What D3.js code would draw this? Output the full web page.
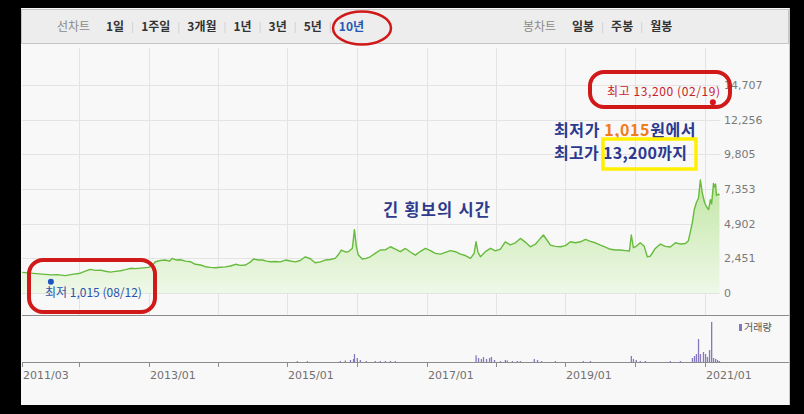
<!DOCTYPE html>
<html><head><meta charset="utf-8">
<script src="https://cdn.jsdelivr.net/npm/d3@7"></script>
<style>
html,body{margin:0;padding:0;background:#000;}
svg{display:block;}
</style></head><body>
<svg id="c" width="804" height="414"></svg>
<script>
// ---------------- DATA ----------------
const priceDates = ["2011-03-09","2011-04-10","2011-05-06","2011-06-07","2011-07-08","2011-08-08","2011-09-09","2011-10-21","2011-11-27","2012-01-08","2012-02-04","2012-03-01","2012-03-28","2012-04-23","2012-05-19","2012-06-15","2012-07-11","2012-08-07","2012-09-02","2012-09-28","2012-10-25","2012-11-20","2013-01-01","2013-01-21","2013-02-06","2013-03-04","2013-03-31","2013-04-21","2013-05-06","2013-05-27","2013-06-18","2013-07-14","2013-08-09","2013-09-04","2013-10-01","2013-10-27","2013-11-22","2013-12-19","2014-01-14","2014-02-09","2014-03-07","2014-04-03","2014-04-29","2014-05-26","2014-06-21","2014-07-07","2014-08-02","2014-08-23","2014-09-13","2014-10-03","2014-10-30","2014-11-25","2014-12-22","2015-01-16","2015-02-12","2015-03-09","2015-04-05","2015-05-01","2015-05-27","2015-06-23","2015-07-19","2015-08-14","2015-09-09","2015-09-25","2015-10-11","2015-11-01","2015-11-17","2015-12-08","2015-12-19","2015-12-29","2016-01-08","2016-01-29","2016-02-19","2016-03-11","2016-04-06","2016-05-03","2016-05-29","2016-06-25","2016-07-21","2016-08-16","2016-09-12","2016-10-08","2016-11-03","2016-11-30","2016-12-26","2017-01-21","2017-02-16","2017-03-15","2017-04-10","2017-05-06","2017-06-02","2017-06-28","2017-07-24","2017-08-20","2017-09-08","2017-09-18","2017-09-28","2017-10-11","2017-11-06","2017-12-03","2017-12-29","2018-01-24","2018-02-19","2018-03-17","2018-04-13","2018-05-09","2018-06-04","2018-06-30","2018-07-27","2018-08-22","2018-09-07","2018-09-23","2018-10-14","2018-11-09","2018-12-05","2019-01-01","2019-01-27","2019-02-23","2019-03-21","2019-04-16","2019-05-12","2019-06-07","2019-07-04","2019-07-30","2019-08-25","2019-09-21","2019-10-17","2019-11-12","2019-12-03","2019-12-13","2019-12-24","2020-01-08","2020-01-29","2020-02-19","2020-03-06","2020-03-22","2020-04-17","2020-05-14","2020-06-09","2020-07-05","2020-08-01","2020-08-27","2020-09-22","2020-10-08","2020-10-18","2020-10-29","2020-11-08","2020-11-19","2020-11-30","2020-12-10","2020-12-21","2021-01-01","2021-01-11","2021-01-22","2021-02-01","2021-02-07","2021-02-17","2021-02-22","2021-02-28","2021-03-04","2021-03-15","2021-03-20"];
const priceValues = [1460,1420,1390,1350,1320,1280,1300,1230,1320,1400,1550,1670,1600,1620,1540,1480,1530,1575,1650,1745,1720,1760,1815,1950,2210,2300,2330,2250,2450,2330,2350,2250,2210,2030,1980,1860,1815,1790,1820,1850,1910,2030,1950,1980,2200,2400,2330,2330,2250,2210,2230,2200,2330,2260,2200,2300,2560,2420,2140,2200,2330,2370,2450,2700,3040,2900,2920,3160,4480,3300,2700,2400,2450,2560,2800,3040,3050,3270,3100,2920,3150,2900,2680,2950,3160,3000,2800,2750,2870,3000,2920,2750,2650,2450,2800,3620,2900,2560,2920,3160,2980,3100,3620,3400,3550,3860,3600,3270,3450,3860,4100,3800,3390,3300,3270,3350,3620,3550,3620,3790,3650,3550,3390,3250,3090,3040,3040,3000,2970,4100,3200,3300,3550,3300,2560,2600,3150,3460,3300,3250,3550,3460,3500,3700,4300,5000,5900,6400,6700,8000,7000,6400,6100,5900,6600,6300,7750,7500,7700,6900,7000,6900];

const volumeDates = ["2015-02-22","2015-04-16","2015-10-06","2015-11-01","2015-11-28","2015-12-14","2015-12-19","2016-01-03","2016-01-19","2016-02-19","2016-04-06","2016-05-03","2016-05-29","2016-06-25","2016-07-21","2017-09-18","2017-10-01","2017-10-16","2017-10-27","2017-11-12","2017-11-28","2017-12-08","2017-12-24","2018-01-24","2018-02-19","2018-03-01","2018-03-28","2018-04-23","2018-05-09","2018-07-21","2018-08-07","2018-08-28","2018-11-09","2019-04-05","2019-05-12","2019-12-13","2019-12-24","2020-01-08","2020-01-29","2020-02-25","2020-07-05","2020-08-27","2020-10-29","2020-11-09","2020-11-19","2020-11-30","2020-12-10","2020-12-26","2021-01-06","2021-01-16","2021-01-27","2021-02-07","2021-02-17","2021-02-28","2021-03-10","2021-03-20"];
const volumeValues = [100,100,100,150,200,300,800,400,200,100,100,100,100,100,100,670,400,300,500,300,400,500,200,100,200,150,100,100,100,300,200,100,100,100,100,600,300,200,100,100,100,100,400,600,800,2300,800,1000,800,500,1200,4000,400,300,200,100];

const yTickValues = [0,2451,4902,7353,9805,12256,14707];
const xTickDates = ["2011-03-08","2012-01-01","2013-01-01","2014-01-01","2015-01-01","2016-01-01","2017-01-01","2018-01-01","2019-01-01","2020-01-01","2021-01-01"];
const xTickLabels = ["2011/03","","2013/01","","2015/01","","2017/01","","2019/01","","2021/01"];

const lineChartItems = ["1일","1주일","3개월","1년","3년","5년","10년"];
const candleChartItems = ["일봉","주봉","월봉"];
const lowPoint = {date:"2011-08-12", value:1015, label:"최저 1,015 (08/12)"};
const highPoint = {date:"2021-02-19", value:13200, label:"최고 13,200 (02/19)"};

// ---------------- DRAW ----------------
const parse = d3.timeParse("%Y-%m-%d");
const svg = d3.select("#c");
const KR = "'Noto Sans CJK KR','Noto Sans',sans-serif";
const NUM = "'DejaVu Sans',sans-serif";

// panel
svg.append("rect").attr("x",0).attr("y",0).attr("width",804).attr("height",414).attr("fill","#000");
svg.append("rect").attr("x",21).attr("y",8).attr("width",768).attr("height",397).attr("fill","#f8f8f8");
svg.append("line").attr("x1",789.5).attr("x2",789.5).attr("y1",8).attr("y2",405).attr("stroke","#c8c8c8");

// header
svg.append("rect").attr("x",21.5).attr("y",9.5).attr("width",767).attr("height",34).attr("fill","#ededed").attr("stroke","#c6c6c6");

function headerGroup(title, items, x0, xFirst, activeIdx){
  const g = svg.append("g").attr("font-family",KR).attr("font-size",12);
  g.append("text").attr("x",x0).attr("y",31).attr("fill","#8a8a8a").text(title);
  let x = xFirst;
  items.forEach((it,i)=>{
    const t = g.append("text").attr("x",x).attr("y",31).attr("font-weight","bold")
      .attr("fill", i===activeIdx ? "#2457b5" : "#333").text(it);
    const w = t.node().getComputedTextLength();
    x += w;
    if(i<items.length-1){
      g.append("line").attr("x1",x+8.5).attr("x2",x+8.5).attr("y1",22).attr("y2",33).attr("stroke","#d2d2d2");
      x += 17;
    }
  });
}
headerGroup("선차트", lineChartItems, 57, 106, 6);
headerGroup("봉차트", candleChartItems, 523, 572, -1);

// scales
const x = d3.scaleTime().domain([parse("2011-03-08"), parse("2021-03-31")]).range([22, 721.5]);
const y = d3.scaleLinear().domain([0,14707]).range([293,85]);
const yv = d3.scaleLinear().domain([0,4500]).range([362,317]);

// grid
const grid = svg.append("g");
grid.selectAll("line.h").data(yTickValues).join("line")
  .attr("x1",22).attr("x2",720).attr("y1",d=>Math.round(y(d))+0.5).attr("y2",d=>Math.round(y(d))+0.5)
  .attr("stroke","#e4e4e4");
grid.selectAll("line.v").data(xTickDates.slice(1)).join("line")
  .attr("x1",d=>Math.round(x(parse(d)))+0.5).attr("x2",d=>Math.round(x(parse(d)))+0.5)
  .attr("y1",48).attr("y2",315).attr("stroke","#e4e4e4");

// y axis labels
svg.append("g").selectAll("text").data(yTickValues).join("text")
  .attr("x",724).attr("y",d=>y(d)+4).attr("font-family",NUM).attr("font-size",11)
  .attr("fill","#7a7a7a").text(d=>d3.format(",")(d));

// area + line
const pts = priceDates.map((d,i)=>({date:parse(d), v:priceValues[i]}));
const defs = svg.append("defs");
const grad = defs.append("linearGradient").attr("id","g1").attr("gradientUnits","userSpaceOnUse")
  .attr("x1",0).attr("x2",0).attr("y1",y(8000)).attr("y2",y(0));
grad.append("stop").attr("offset","0%").attr("stop-color","#c2e6a4");
grad.append("stop").attr("offset","100%").attr("stop-color","#eef8e8");
svg.append("path").datum(pts)
  .attr("d", d3.area().x(d=>x(d.date)).y0(y(0)).y1(d=>y(d.v)))
  .attr("fill","url(#g1)");
svg.append("path").datum(pts)
  .attr("d", d3.line().x(d=>x(d.date)).y(d=>y(d.v)))
  .attr("fill","none").attr("stroke","#66bb3c").attr("stroke-width",1.4).attr("stroke-linejoin","round");

// separator lines
svg.append("line").attr("x1",22).attr("x2",789).attr("y1",315.5).attr("y2",315.5).attr("stroke","#8c8c8c").attr("stroke-width",1.2);
svg.append("line").attr("x1",22).attr("x2",789).attr("y1",362.5).attr("y2",362.5).attr("stroke","#8c8c8c").attr("stroke-width",1.2);

// volume bars
const vol = volumeDates.map((d,i)=>({date:parse(d), v:volumeValues[i]}));
svg.append("g").selectAll("rect").data(vol).join("rect")
  .attr("x",d=>x(d.date)-0.6).attr("width",1.3)
  .attr("y",d=>yv(d.v)).attr("height",d=>yv(0)-yv(d.v))
  .attr("fill","#8777bd");

// legend
svg.append("rect").attr("x",739).attr("y",324).attr("width",3).attr("height",7).attr("fill","#8777bd");
svg.append("text").attr("x",744).attr("y",331).attr("font-family",KR).attr("font-size",10).attr("fill","#555").text("거래량");

// x axis ticks + labels
const xt = svg.append("g");
xt.selectAll("line").data(xTickDates).join("line")
  .attr("x1",d=>Math.round(x(parse(d)))+0.5).attr("x2",d=>Math.round(x(parse(d)))+0.5)
  .attr("y1",362).attr("y2",367).attr("stroke","#8c8c8c");
xt.selectAll("text").data(xTickDates).join("text")
  .attr("x",d=>Math.round(x(parse(d)))+1).attr("y",379)
  .attr("font-family",NUM).attr("font-size",11).attr("fill","#707070")
  .text((d,i)=>xTickLabels[i]);

// high / low markers
svg.append("circle").attr("cx",x(parse(highPoint.date))-1).attr("cy",y(highPoint.value)-4).attr("r",3).attr("fill","#d8141c");
svg.append("text").attr("x",607).attr("y",96).attr("font-family",KR).attr("font-size",12).attr("letter-spacing",0.6).attr("fill","#c8232a").text(highPoint.label);
svg.append("circle").attr("cx",x(parse(lowPoint.date))-1).attr("cy",y(lowPoint.value)+3).attr("r",3).attr("fill","#1c54c0");
svg.append("text").attr("x",45).attr("y",297).attr("font-family",KR).attr("font-size",12).attr("fill","#2a55a8").text(lowPoint.label);

// annotations
const ann = svg.append("g").attr("font-family",KR).attr("font-weight","bold").attr("font-size",16).attr("fill","#2b3990");
const t1 = ann.append("text").attr("x",554).attr("y",136).attr("letter-spacing",0.6);
t1.append("tspan").text("최저가 ");
t1.append("tspan").attr("fill","#f07c1c").text("1,015");
t1.append("tspan").text("원에서");
const t2 = ann.append("text").attr("x",554).attr("y",159).attr("letter-spacing",0.3);
t2.append("tspan").text("최고가 ");
t2.append("tspan").text("13,200까지");
ann.append("text").attr("x",383).attr("y",216).attr("font-weight","bold").attr("font-size",16.5).attr("letter-spacing",1.2).attr("fill","#2e3a8c").text("긴 횡보의 시간");

// yellow box
svg.append("rect").attr("x",603).attr("y",139).attr("width",93).attr("height",30).attr("fill","none").attr("stroke","#fff000").attr("stroke-width",3.5);

// red hand-drawn loops
const red = "#d01a1a";
svg.append("ellipse").attr("cx",362).attr("cy",28).attr("rx",29).attr("ry",16.5).attr("fill","none").attr("stroke",red).attr("stroke-width",2.5);
svg.append("rect").attr("x",590).attr("y",72).attr("width",140).attr("height",35).attr("rx",14).attr("fill","none").attr("stroke",red).attr("stroke-width",4);
svg.append("rect").attr("x",29).attr("y",260).attr("width",126).attr("height",52).attr("rx",14).attr("fill","none").attr("stroke",red).attr("stroke-width",4);
</script>
</body></html>
